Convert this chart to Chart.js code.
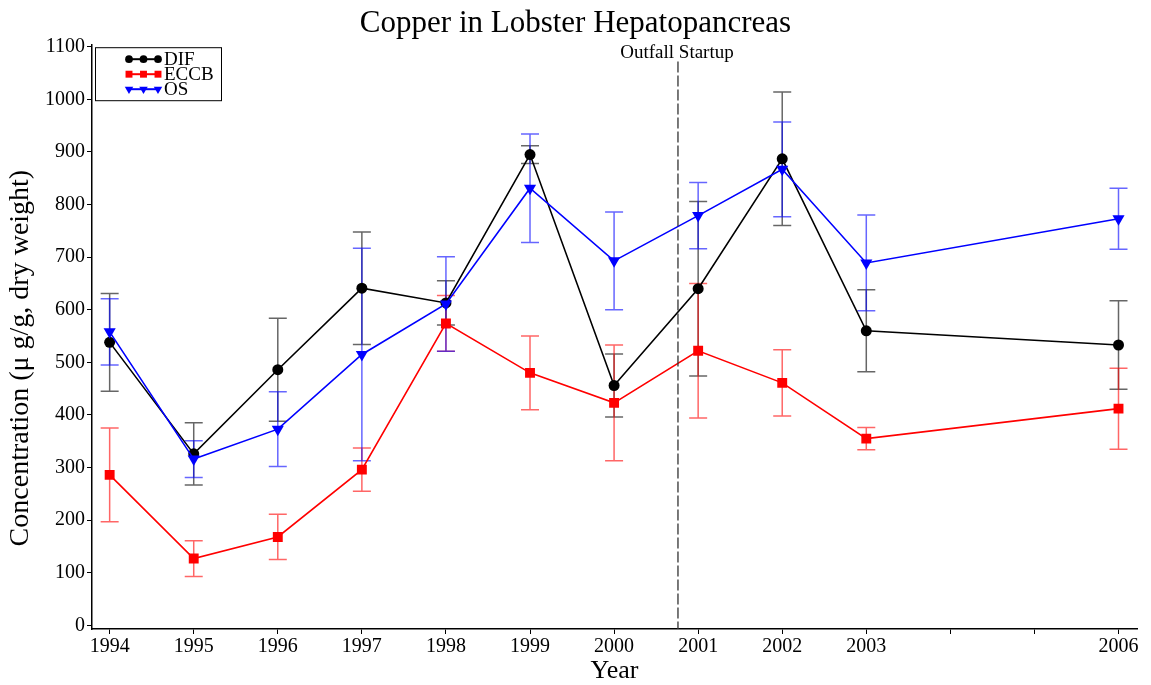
<!DOCTYPE html>
<html>
<head>
<meta charset="utf-8">
<title>Copper in Lobster Hepatopancreas</title>
<script src="https://cdn.jsdelivr.net/npm/chart.js@4/dist/chart.umd.min.js"></script>
<style>
  html, body { margin: 0; padding: 0; background: #fff; }
  #wrap { width: 1151px; height: 685px; }
</style>
</head>
<body>
<div id="wrap"><canvas id="copperChart" width="1151" height="685"></canvas></div>
<script>
// sampling years and station means with +/- error
const years = [1994, 1995, 1996, 1997, 1998, 1999, 2000, 2001, 2002, 2003, 2006];

const difMean = [538, 326, 486, 641, 613, 895, 456, 640, 887, 560, 533];
const difErr  = [ 93,  59,  98, 107,  42,  17,  60, 166, 127,  78,  84];

const eccbMean = [286, 127, 168, 296, 574, 480, 423, 522, 461, 355, 412];
const eccbErr  = [ 89,  34,  43,  41,  53,  70, 110, 128,  63,  21,  77];

const osMean = [558, 316, 373, 515, 611, 831, 693, 779, 867, 689, 773];
const osErr  = [ 63,  35,  71, 202,  90, 103,  93,  63,  90,  91,  58];

const xTickYears  = [1994, 1995, 1996, 1997, 1998, 1999, 2000, 2001, 2002, 2003, 2004, 2005, 2006];
const xLabelYears = [1994, 1995, 1996, 1997, 1998, 1999, 2000, 2001, 2002, 2003, 2006];
const yTicks = [0, 100, 200, 300, 400, 500, 600, 700, 800, 900, 1000, 1100];

const outfallYear = 2000.76;
const outfallLabel = 'Outfall Startup';
const yTitle = 'Concentration (\u03bc g/g, dry weight)';

const serif = 'Liberation Serif, "Times New Roman", serif';
Chart.defaults.font.family = serif;
Chart.defaults.color = '#000';

const toPoints = (means) => means.map((v, i) => ({ x: years[i], y: v }));

const series = [
  { label: 'DIF',  data: toPoints(difMean),  errors: difErr,  color: '#000000', errorColor: 'rgba(0,0,0,0.6)',
    pointStyle: 'circle', pointRadius: 5.5, rotation: 0, order: 3 },
  { label: 'ECCB', data: toPoints(eccbMean), errors: eccbErr, color: '#ff0000', errorColor: 'rgba(255,0,0,0.6)',
    pointStyle: 'rect', pointRadius: 7, rotation: 0, order: 2 },
  { label: 'OS',   data: toPoints(osMean),   errors: osErr,   color: '#0000ff', errorColor: 'rgba(0,0,255,0.6)',
    pointStyle: 'triangle', pointRadius: 7, rotation: 180, order: 1 }
];

// vertical error bars with caps, under the lines
const errorBars = {
  id: 'errorBars',
  beforeDatasetsDraw(chart) {
    const { ctx, scales: { x, y } } = chart;
    const cap = 9;
    chart.data.datasets.forEach((ds) => {
      ctx.save();
      ctx.strokeStyle = ds.errorColor;
      ctx.lineWidth = 1.5;
      ds.data.forEach((p, j) => {
        const px = x.getPixelForValue(p.x);
        const top = y.getPixelForValue(p.y + ds.errors[j]);
        const bot = y.getPixelForValue(p.y - ds.errors[j]);
        ctx.beginPath();
        ctx.moveTo(px, top); ctx.lineTo(px, bot);
        ctx.moveTo(px - cap, top); ctx.lineTo(px + cap, top);
        ctx.moveTo(px - cap, bot); ctx.lineTo(px + cap, bot);
        ctx.stroke();
      });
      ctx.restore();
    });
  }
};

// dashed startup marker and its label
const outfall = {
  id: 'outfall',
  afterDatasetsDraw(chart) {
    const { ctx, chartArea, scales: { x, y } } = chart;
    const px = x.getPixelForValue(outfallYear);
    ctx.save();
    ctx.strokeStyle = '#333';
    ctx.lineWidth = 1.3;
    ctx.setLineDash([11, 3]);
    ctx.beginPath();
    ctx.moveTo(px, y.getPixelForValue(1072));
    ctx.lineTo(px, chartArea.bottom);
    ctx.stroke();
    ctx.setLineDash([]);
    ctx.fillStyle = '#000';
    ctx.font = '19px ' + serif;
    ctx.textAlign = 'center';
    ctx.textBaseline = 'middle';
    ctx.fillText(outfallLabel, px - 1, y.getPixelForValue(1088));
    ctx.restore();
  }
};

// y axis title, sitting a little below the plot's middle
const yAxisTitle = {
  id: 'yAxisTitle',
  afterDraw(chart) {
    const { ctx, chartArea } = chart;
    ctx.save();
    ctx.translate(21, (chartArea.top + chartArea.bottom) / 2 + 21);
    ctx.rotate(-Math.PI / 2);
    ctx.fillStyle = '#000';
    ctx.font = '28px ' + serif;
    ctx.textAlign = 'center';
    ctx.textBaseline = 'middle';
    ctx.fillText(yTitle, 0, 0);
    ctx.restore();
  }
};

// boxed legend with a short line and three markers per entry
const markerLegend = {
  id: 'markerLegend',
  afterDraw(chart) {
    const { ctx, chartArea } = chart;
    const left = chartArea.left + 3, top = chartArea.top + 2;
    const w = 126, h = 53;
    ctx.save();
    ctx.fillStyle = '#fff';
    ctx.fillRect(left, top, w, h);
    ctx.strokeStyle = '#000';
    ctx.lineWidth = 1;
    ctx.strokeRect(left + 0.5, top + 0.5, w, h);
    ctx.font = '19px ' + serif;
    ctx.textBaseline = 'middle';
    chart.data.datasets.forEach((ds, i) => {
      const cy = top + 12 + i * 15;
      const x0 = left + 34, x1 = left + 63;
      ctx.strokeStyle = ds.borderColor;
      ctx.lineWidth = 2;
      ctx.beginPath();
      ctx.moveTo(x0, cy); ctx.lineTo(x1, cy);
      ctx.stroke();
      ctx.fillStyle = ds.borderColor;
      [x0, (x0 + x1) / 2, x1].forEach((mx) => {
        Chart.helpers.drawPoint(ctx, {
          pointStyle: ds.pointStyle, radius: ds.pointRadius * 0.7,
          rotation: ds.rotation, borderWidth: 0
        }, mx, cy);
      });
      ctx.fillStyle = '#000';
      ctx.fillText(ds.label, left + 69, cy + 1);
    });
    ctx.restore();
  }
};

const tickFont = { family: serif, size: 20 };

new Chart(document.getElementById('copperChart'), {
  type: 'line',
  data: {
    datasets: series.map((s) => ({
      label: s.label,
      data: s.data,
      errors: s.errors,
      errorColor: s.errorColor,
      borderColor: s.color,
      backgroundColor: s.color,
      pointBackgroundColor: s.color,
      pointBorderColor: s.color,
      pointBorderWidth: 0,
      pointStyle: s.pointStyle,
      pointRadius: s.pointRadius,
      rotation: s.rotation,
      borderWidth: 1.6,
      tension: 0,
      fill: false,
      order: s.order
    }))
  },
  options: {
    responsive: false,
    animation: false,
    layout: { padding: { top: 0, right: 14, bottom: 0, left: 14 } },
    plugins: {
      legend: { display: false },
      tooltip: { enabled: false },
      title: {
        display: true,
        text: 'Copper in Lobster Hepatopancreas',
        color: '#000',
        font: { family: serif, size: 31, weight: 'normal' },
        padding: { top: 5, bottom: 3 }
      }
    },
    scales: {
      x: {
        type: 'linear',
        min: 1993.79,
        max: 2006.22,
        afterBuildTicks: (s) => { s.ticks = xTickYears.map((v) => ({ value: v })); },
        afterFit: (s) => { s.height = 56; },
        ticks: {
          autoSkip: false,
          maxRotation: 0,
          padding: 1,
          font: tickFont,
          color: '#000',
          callback: (v) => (xLabelYears.includes(v) ? String(v) : '')
        },
        grid: { drawOnChartArea: false, drawTicks: true, tickLength: 5, color: '#000', tickWidth: 1 },
        border: { display: true, color: '#000', width: 1.5 },
        title: {
          display: true,
          text: 'Year',
          color: '#000',
          font: { family: serif, size: 26 },
          padding: { top: 0, bottom: -2 }
        }
      },
      y: {
        type: 'linear',
        min: -7,
        max: 1103,
        afterBuildTicks: (s) => { s.ticks = yTicks.map((v) => ({ value: v })); },
        afterFit: (s) => { s.width = 78; },
        ticks: { padding: 2, font: tickFont, color: '#000', callback: (v) => String(v) },
        grid: { drawOnChartArea: false, drawTicks: true, tickLength: 5, color: '#000', tickWidth: 1 },
        border: { display: true, color: '#000', width: 1.5 }
      }
    }
  },
  plugins: [errorBars, outfall, yAxisTitle, markerLegend]
});
</script>
</body>
</html>
